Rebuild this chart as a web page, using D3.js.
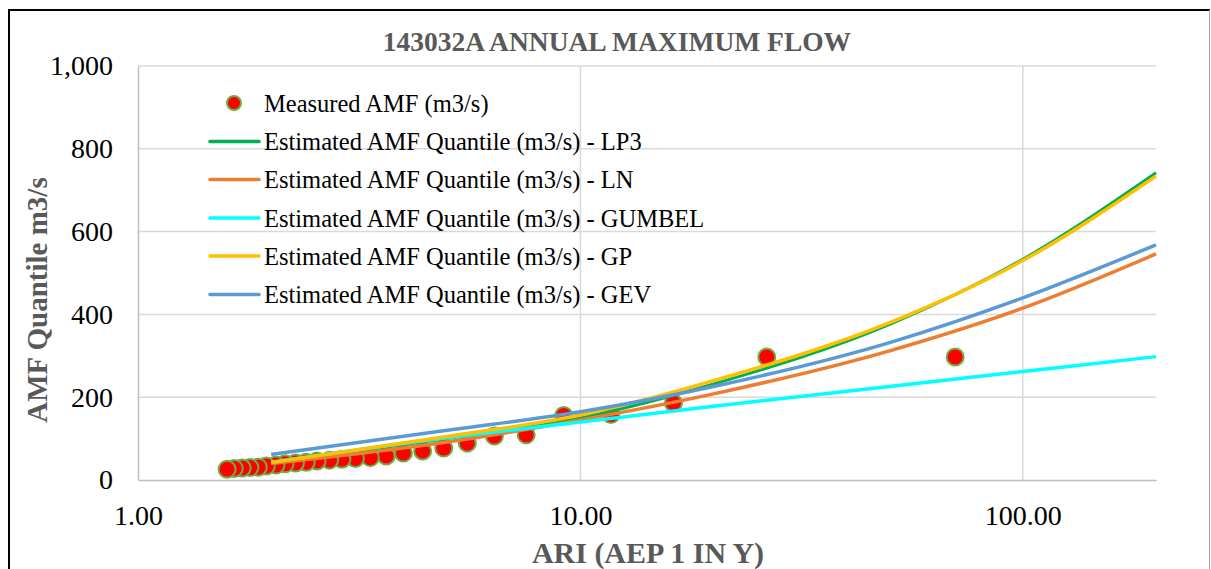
<!DOCTYPE html>
<html>
<head>
<meta charset="utf-8">
<script src="https://cdn.jsdelivr.net/npm/d3@7"></script>
<style>
  html, body { margin: 0; padding: 0; background: #fff; }
  svg { display: block; font-family: "Liberation Serif", "Times New Roman", serif; }
</style>
</head>
<body>
<svg id="chart" width="1211" height="569"></svg>
<script>
// Measured annual maximum flows, ranked, with their plotting-position ARI
const measuredAri  = [70.33, 26.38, 16.23, 11.72, 9.17, 7.54, 6.39, 5.55, 4.91, 4.40, 3.98, 3.64, 3.35, 3.10, 2.89, 2.71, 2.54, 2.40, 2.27, 2.15, 2.05, 1.95, 1.87, 1.79, 1.72, 1.65, 1.59];
const measuredFlow = [297, 297, 186, 158, 156, 109, 106, 89, 77, 70, 65, 58, 54, 52, 50, 48, 46, 43, 41, 39, 36, 34, 31, 30, 29, 28, 26];

// Quantile estimates at standard ARIs for each fitted distribution
const quantileAri = [2, 5, 10, 20, 50, 100, 200];
const lp3Flow    = [40, 100, 150, 232, 376, 533, 742];
const lnFlow     = [40, 92, 145, 208, 312, 415, 546];
const gumbelFlow = [43, 102, 140, 178, 226, 262, 298];
const gpFlow     = [42, 105, 157, 240, 380, 530, 734];
const gevFlow    = [62, 120, 165, 226, 332, 440, 568];

const xTicks = [1, 10, 100];
const yTicks = [0, 200, 400, 600, 800, 1000];

const seriesNames = [
  "Estimated AMF Quantile (m3/s) - LP3",
  "Estimated AMF Quantile (m3/s) - LN",
  "Estimated AMF Quantile (m3/s) - GUMBEL",
  "Estimated AMF Quantile (m3/s) - GP",
  "Estimated AMF Quantile (m3/s) - GEV"
];
const seriesFlows  = [lp3Flow, lnFlow, gumbelFlow, gpFlow, gevFlow];
const seriesColors = ["#00B050", "#ED7D31", "#00FFFF", "#FFC000", "#5B9BD5"];

const svg = d3.select("#chart");
const W = 1211, H = 569;
const plot = { left: 138, right: 1156, top: 66, bottom: 480 };

// outer chart frame
svg.append("rect").attr("x", 0).attr("y", 0).attr("width", W).attr("height", H).attr("fill", "#fff");
svg.append("line").attr("x1", 9).attr("x2", 9).attr("y1", 10).attr("y2", H).attr("stroke", "#000").attr("stroke-width", 2);
svg.append("line").attr("x1", 8).attr("x2", 1210).attr("y1", 10).attr("y2", 10).attr("stroke", "#000").attr("stroke-width", 2);
svg.append("line").attr("x1", 1209.5).attr("x2", 1209.5).attr("y1", 10).attr("y2", H).attr("stroke", "#a6a6a6").attr("stroke-width", 1);

const x = d3.scaleLog().domain([1, 200]).range([plot.left, plot.right]);
const y = d3.scaleLinear().domain([0, 1000]).range([plot.bottom, plot.top]);

// gridlines
const grid = svg.append("g");
grid.selectAll(".hg").data(yTicks.filter(d => d > 0)).enter().append("line")
  .attr("x1", plot.left).attr("x2", plot.right)
  .attr("y1", d => y(d)).attr("y2", d => y(d))
  .attr("stroke", "#d9d9d9").attr("stroke-width", 1.5);
grid.selectAll(".vg").data(xTicks.filter(d => d > 1)).enter().append("line")
  .attr("x1", d => x(d)).attr("x2", d => x(d))
  .attr("y1", plot.top).attr("y2", plot.bottom)
  .attr("stroke", "#d9d9d9").attr("stroke-width", 1.5);

// axes
const xAxis = svg.append("g").attr("transform", `translate(0,${plot.bottom})`)
  .call(d3.axisBottom(x).tickValues(xTicks).tickFormat(d3.format(".2f")).tickSize(0).tickPadding(25));
const yAxis = svg.append("g").attr("transform", `translate(${plot.left},0)`)
  .call(d3.axisLeft(y).tickValues(yTicks).tickFormat(d3.format(",")).tickSize(0).tickPadding(25));
[xAxis, yAxis].forEach(a => {
  a.select(".domain").attr("stroke", "#bfbfbf").attr("stroke-width", 1.5);
  a.selectAll("text").attr("font-family", "Liberation Serif").attr("font-size", 28).attr("fill", "#000");
});

// measured points
svg.append("g").selectAll("circle")
  .data(measuredAri.map((a, i) => [a, measuredFlow[i]]))
  .enter().append("circle")
  .attr("cx", d => x(d[0])).attr("cy", d => y(d[1]))
  .attr("r", 8.5).attr("fill", "#FF0000").attr("stroke", "#70AD47").attr("stroke-width", 2);

// fitted quantile curves
const line = d3.line().x(d => x(d[0])).y(d => y(d[1])).curve(d3.curveMonotoneX);
seriesFlows.forEach((flows, k) => {
  svg.append("path")
    .datum(quantileAri.map((a, i) => [a, flows[i]]))
    .attr("d", line).attr("fill", "none")
    .attr("stroke", seriesColors[k]).attr("stroke-width", k === 0 ? 3 : 3.5)
    .attr("stroke-linejoin", "round");
});

// title and axis titles
svg.append("text").attr("x", 617).attr("y", 51).attr("text-anchor", "middle")
  .attr("font-size", 27.5).attr("font-weight", "bold").attr("fill", "#595959")
  .text("143032A ANNUAL MAXIMUM FLOW");
svg.append("text").attr("x", 648).attr("y", 563).attr("text-anchor", "middle")
  .attr("font-size", 30).attr("font-weight", "bold").attr("fill", "#595959")
  .text("ARI (AEP 1 IN Y)");
svg.append("text").attr("transform", "translate(47,300) rotate(-90)").attr("text-anchor", "middle")
  .attr("font-size", 29).attr("font-weight", "bold").attr("fill", "#595959")
  .text("AMF Quantile m3/s");

// legend
const legendRows = [103, 141.5, 179.5, 218, 256, 294.5];
const legend = svg.append("g");
legend.append("circle").attr("cx", 234).attr("cy", legendRows[0]).attr("r", 7)
  .attr("fill", "#FF0000").attr("stroke", "#70AD47").attr("stroke-width", 2);
legend.append("text").attr("x", 264).attr("y", legendRows[0] + 8.5)
  .attr("font-size", 24.5).attr("fill", "#000").text("Measured AMF (m3/s)");
seriesNames.forEach((name, k) => {
  const ry = legendRows[k + 1];
  legend.append("line").attr("x1", 210).attr("x2", 259).attr("y1", ry).attr("y2", ry)
    .attr("stroke", seriesColors[k]).attr("stroke-width", 3.5).attr("stroke-linecap", "round");
  legend.append("text").attr("x", 264).attr("y", ry + 8.5)
    .attr("font-size", 24.5).attr("fill", "#000").text(name);
});
</script>
</body>
</html>
